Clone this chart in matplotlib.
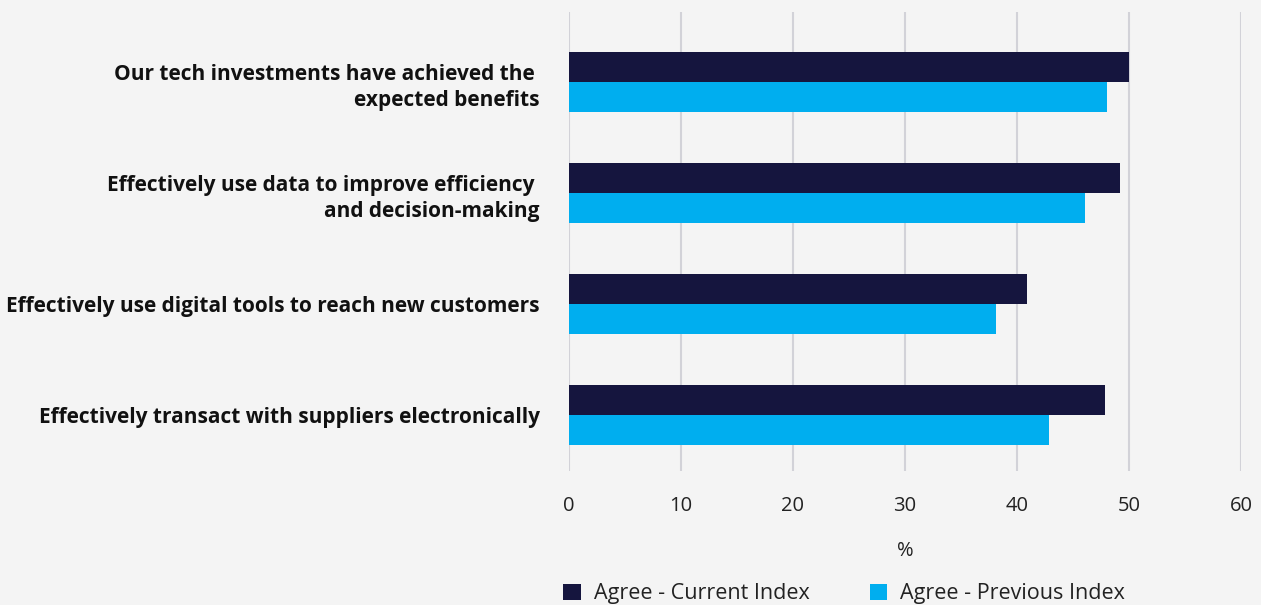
import matplotlib.pyplot as plt
import numpy as np

# Survey statements and agreement shares (%)
statements = [
    "Our tech investments have achieved the \nexpected benefits",
    "Effectively use data to improve efficiency \nand decision-making",
    "Effectively use digital tools to reach new customers",
    "Effectively transact with suppliers electronically",
]
current_index = [50.0, 49.2, 40.9, 47.9]
previous_index = [48.0, 46.1, 38.1, 42.9]
x_ticks = [0, 10, 20, 30, 40, 50, 60]

bg = "#f4f4f4"
navy = "#15153e"
blue = "#00aeef"

plt.rcParams["font.family"] = ["Open Sans", "DejaVu Sans"]

fig = plt.figure(figsize=(12.61, 6.05), dpi=100, facecolor=bg)
ax = fig.add_axes([569 / 1261, 1 - 471 / 605, 672 / 1261, 459 / 605], facecolor=bg)

y = np.arange(len(statements))
h = 0.27
ax.barh(y - h / 2, current_index, height=h, color=navy, label="Agree - Current Index", zorder=3)
ax.barh(y + h / 2, previous_index, height=h, color=blue, label="Agree - Previous Index", zorder=3)

ax.set_xlim(0, 60)
ax.set_ylim(3.5, -0.63)
ax.set_xticks(x_ticks)
ax.set_xticklabels([str(t) for t in x_ticks], fontsize=14.5, color="#222222")
ax.set_yticks(y)
ax.set_yticklabels(statements, fontsize=15, fontweight="bold", color="#111111", linespacing=1.33)
ax.tick_params(axis="both", length=0)
ax.tick_params(axis="y", pad=21)
ax.tick_params(axis="x", pad=18)
ax.set_xlabel("%", fontsize=14.5, color="#222222", labelpad=18)

ax.grid(axis="x", color="#d2d2d8", linewidth=1.5, zorder=0)
for s in ax.spines.values():
    s.set_visible(False)

fig.legend(loc="center", bbox_to_anchor=(844 / 1261, 1 - 594 / 605), ncol=2, frameon=False,
           handlelength=0.8, handleheight=0.8, handletextpad=0.6, columnspacing=2.8,
           prop={"size": 15.5}, labelcolor="#222222")

plt.savefig("out.png", dpi=100, facecolor=bg)
